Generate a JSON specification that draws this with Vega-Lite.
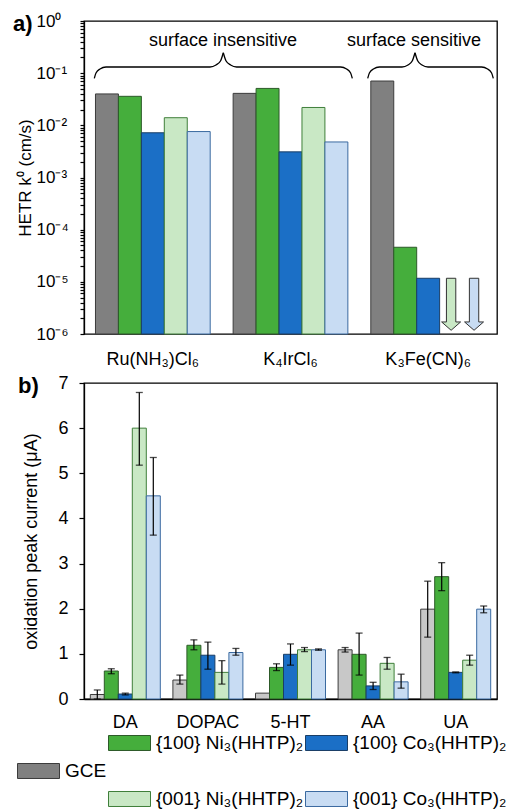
{
  "$schema": "https://vega.github.io/schema/vega-lite/v6.json",
  "background": "white",
  "padding": {"left": 12, "top": 11, "right": 5, "bottom": 5},
  "config": {
    "font": "Liberation Sans",
    "view": {"stroke": "#000", "strokeWidth": 1.3},
    "axis": {"domainColor": "#000", "domainWidth": 1.3, "tickColor": "#000", "tickWidth": 1.2, "labelColor": "#000", "titleColor": "#000", "labelFontSize": 18, "titleFontSize": 18, "titleFontWeight": "normal", "grid": false},
    "title": {"color": "#000"}
  },
  "datasets": {
    "kin": [
      {"compound": "Ru(NH₃)Cl₆", "series": "GCE", "k0": 0.040},
      {"compound": "Ru(NH₃)Cl₆", "series": "{100} Ni₃(HHTP)₂", "k0": 0.036},
      {"compound": "Ru(NH₃)Cl₆", "series": "{100} Co₃(HHTP)₂", "k0": 0.0072},
      {"compound": "Ru(NH₃)Cl₆", "series": "{001} Ni₃(HHTP)₂", "k0": 0.014},
      {"compound": "Ru(NH₃)Cl₆", "series": "{001} Co₃(HHTP)₂", "k0": 0.0076},
      {"compound": "K₄IrCl₆", "series": "GCE", "k0": 0.041},
      {"compound": "K₄IrCl₆", "series": "{100} Ni₃(HHTP)₂", "k0": 0.051},
      {"compound": "K₄IrCl₆", "series": "{100} Co₃(HHTP)₂", "k0": 0.0031},
      {"compound": "K₄IrCl₆", "series": "{001} Ni₃(HHTP)₂", "k0": 0.022},
      {"compound": "K₄IrCl₆", "series": "{001} Co₃(HHTP)₂", "k0": 0.0048},
      {"compound": "K₃Fe(CN)₆", "series": "GCE", "k0": 0.0707},
      {"compound": "K₃Fe(CN)₆", "series": "{100} Ni₃(HHTP)₂", "k0": 0.000046},
      {"compound": "K₃Fe(CN)₆", "series": "{100} Co₃(HHTP)₂", "k0": 0.0000117},
      {"compound": "K₃Fe(CN)₆", "series": "{001} Ni₃(HHTP)₂", "k0": null, "limit": 0.0000117},
      {"compound": "K₃Fe(CN)₆", "series": "{001} Co₃(HHTP)₂", "k0": null, "limit": 0.0000117}
    ],
    "osc": [
      {"analyte": "DA", "series": "GCE", "v": 0.10, "lo": 0.0, "hi": 0.20},
      {"analyte": "DA", "series": "{100} Ni₃(HHTP)₂", "v": 0.62, "lo": 0.56, "hi": 0.67},
      {"analyte": "DA", "series": "{100} Co₃(HHTP)₂", "v": 0.11, "lo": 0.09, "hi": 0.13},
      {"analyte": "DA", "series": "{001} Ni₃(HHTP)₂", "v": 6.0, "lo": 5.18, "hi": 6.79},
      {"analyte": "DA", "series": "{001} Co₃(HHTP)₂", "v": 4.5, "lo": 3.63, "hi": 5.35},
      {"analyte": "DOPAC", "series": "GCE", "v": 0.42, "lo": 0.33, "hi": 0.53},
      {"analyte": "DOPAC", "series": "{100} Ni₃(HHTP)₂", "v": 1.19, "lo": 1.09, "hi": 1.31},
      {"analyte": "DOPAC", "series": "{100} Co₃(HHTP)₂", "v": 0.97, "lo": 0.66, "hi": 1.26},
      {"analyte": "DOPAC", "series": "{001} Ni₃(HHTP)₂", "v": 0.59, "lo": 0.33, "hi": 0.85},
      {"analyte": "DOPAC", "series": "{001} Co₃(HHTP)₂", "v": 1.03, "lo": 0.97, "hi": 1.12},
      {"analyte": "5-HT", "series": "GCE", "v": 0.13, "lo": null, "hi": null},
      {"analyte": "5-HT", "series": "{100} Ni₃(HHTP)₂", "v": 0.70, "lo": 0.63, "hi": 0.78},
      {"analyte": "5-HT", "series": "{100} Co₃(HHTP)₂", "v": 0.99, "lo": 0.75, "hi": 1.22},
      {"analyte": "5-HT", "series": "{001} Ni₃(HHTP)₂", "v": 1.09, "lo": 1.05, "hi": 1.14},
      {"analyte": "5-HT", "series": "{001} Co₃(HHTP)₂", "v": 1.09, "lo": 1.08, "hi": 1.11},
      {"analyte": "AA", "series": "GCE", "v": 1.09, "lo": 1.04, "hi": 1.14},
      {"analyte": "AA", "series": "{100} Ni₃(HHTP)₂", "v": 0.99, "lo": 0.53, "hi": 1.46},
      {"analyte": "AA", "series": "{100} Co₃(HHTP)₂", "v": 0.29, "lo": 0.21, "hi": 0.37},
      {"analyte": "AA", "series": "{001} Ni₃(HHTP)₂", "v": 0.79, "lo": 0.66, "hi": 0.92},
      {"analyte": "AA", "series": "{001} Co₃(HHTP)₂", "v": 0.38, "lo": 0.24, "hi": 0.55},
      {"analyte": "UA", "series": "GCE", "v": 1.99, "lo": 1.37, "hi": 2.61},
      {"analyte": "UA", "series": "{100} Ni₃(HHTP)₂", "v": 2.71, "lo": 2.40, "hi": 3.02},
      {"analyte": "UA", "series": "{100} Co₃(HHTP)₂", "v": 0.59, "lo": 0.58, "hi": 0.60},
      {"analyte": "UA", "series": "{001} Ni₃(HHTP)₂", "v": 0.86, "lo": 0.75, "hi": 0.97},
      {"analyte": "UA", "series": "{001} Co₃(HHTP)₂", "v": 1.99, "lo": 1.91, "hi": 2.06}
    ],
    "braces": [
      {"seg": "b1L", "u": 0.449, "k": 0.0797}, {"seg": "b1L", "u": 0.523, "k": 0.1007}, {"seg": "b1L", "u": 0.697, "k": 0.1202}, {"seg": "b1L", "u": 0.959, "k": 0.1313}, {"seg": "b1L", "u": 5.492, "k": 0.1313}, {"seg": "b1L", "u": 5.753, "k": 0.1435}, {"seg": "b1L", "u": 5.949, "k": 0.1711}, {"seg": "b1L", "u": 6.071, "k": 0.2467},
      {"seg": "b1R", "u": 6.071, "k": 0.2467}, {"seg": "b1R", "u": 6.193, "k": 0.1711}, {"seg": "b1R", "u": 6.389, "k": 0.1435}, {"seg": "b1R", "u": 6.651, "k": 0.1313}, {"seg": "b1R", "u": 11.184, "k": 0.1313}, {"seg": "b1R", "u": 11.445, "k": 0.1202}, {"seg": "b1R", "u": 11.620, "k": 0.1007}, {"seg": "b1R", "u": 11.694, "k": 0.0797},
      {"seg": "b2L", "u": 12.365, "k": 0.0797}, {"seg": "b2L", "u": 12.439, "k": 0.1007}, {"seg": "b2L", "u": 12.613, "k": 0.1202}, {"seg": "b2L", "u": 12.875, "k": 0.1313}, {"seg": "b2L", "u": 13.860, "k": 0.1313}, {"seg": "b2L", "u": 14.121, "k": 0.1435}, {"seg": "b2L", "u": 14.304, "k": 0.1711}, {"seg": "b2L", "u": 14.426, "k": 0.2467},
      {"seg": "b2R", "u": 14.426, "k": 0.2467}, {"seg": "b2R", "u": 14.548, "k": 0.1711}, {"seg": "b2R", "u": 14.731, "k": 0.1435}, {"seg": "b2R", "u": 14.993, "k": 0.1313}, {"seg": "b2R", "u": 17.329, "k": 0.1313}, {"seg": "b2R", "u": 17.590, "k": 0.1202}, {"seg": "b2R", "u": 17.765, "k": 0.1007}, {"seg": "b2R", "u": 17.839, "k": 0.0797}
    ],
    "notes": [
      {"label": "surface insensitive", "u": 6.058, "k": 0.332},
      {"label": "surface sensitive", "u": 14.383, "k": 0.332}
    ]
  },
  "spacing": 4,
  "resolve": {"scale": {"fill": "shared", "stroke": "shared", "xOffset": "independent"}, "legend": {"fill": "shared", "stroke": "shared"}},
  "vconcat": [
    {
      "width": 413,
      "height": 313,
      "title": {"text": "a)", "anchor": "start", "frame": "bounds", "orient": "top", "fontSize": 22, "fontWeight": "bold", "offset": 0, "dy": 24, "dx": -3},
      "resolve": {"scale": {"x": "independent"}, "axis": {"x": "independent"}},
      "layer": [
        {
          "data": {"name": "kin"},
          "mark": {"type": "bar", "strokeWidth": 1},
          "encoding": {
            "x": {"field": "compound", "type": "nominal", "sort": ["Ru(NH₃)Cl₆", "K₄IrCl₆", "K₃Fe(CN)₆"], "scale": {"domain": ["Ru(NH₃)Cl₆", "K₄IrCl₆", "K₃Fe(CN)₆"], "paddingInner": 0, "paddingOuter": 0}, "axis": {"title": null, "labelAngle": 0, "ticks": false, "domain": false, "labelPadding": 16, "labelFontSize": 18}},
            "xOffset": {"field": "series", "type": "nominal", "scale": {"domain": ["GCE", "{100} Ni₃(HHTP)₂", "{100} Co₃(HHTP)₂", "{001} Ni₃(HHTP)₂", "{001} Co₃(HHTP)₂"], "paddingInner": 0, "paddingOuter": 0.5}},
            "y": {"field": "k0", "type": "quantitative", "scale": {"type": "log", "domain": [0.000001, 1], "nice": false},
              "axis": {"orient": "left", "title": "HETR k⁰ (cm/s)", "titleFontSize": 17, "titlePadding": 2, "values": [0.000001,0.000002,0.000003,0.000004,0.000005,0.000006,0.000007,0.000008,0.000009,0.00001,0.00002,0.00003,0.00004,0.00005,0.00006,0.00007,0.00008,0.00009,0.0001,0.0002,0.0003,0.0004,0.0005,0.0006,0.0007,0.0008,0.0009,0.001,0.002,0.003,0.004,0.005,0.006,0.007,0.008,0.009,0.01,0.02,0.03,0.04,0.05,0.06,0.07,0.08,0.09,0.1,0.2,0.3,0.4,0.5,0.6,0.7,0.8,0.9,1], "labelExpr": "abs(log(datum.value)/LN10 - round(log(datum.value)/LN10)) > 0.001 ? '' : datum.value > 0.5 ? '10⁰' : datum.value > 0.05 ? '10⁻¹' : datum.value > 0.005 ? '10⁻²' : datum.value > 0.0005 ? '10⁻³' : datum.value > 0.00005 ? '10⁻⁴' : datum.value > 0.000005 ? '10⁻⁵' : '10⁻⁶'", "tickSize": 4, "labelAlign": "left", "labelPadding": 44, "labelFontSize": 17, "labelOverlap": false}},
            "y2": {"datum": 0.000001},
            "fill": {"field": "series", "type": "nominal",
              "scale": {"domain": ["blank1", "{100} Ni₃(HHTP)₂", "{100} Co₃(HHTP)₂", "GCE", "blank2", "blank3", "blank4", "{001} Ni₃(HHTP)₂", "{001} Co₃(HHTP)₂"], "range": ["transparent", "#45ae3c", "#1b6fc6", "#808080", "transparent", "transparent", "transparent", "#c9e8c5", "#c8dcf3"]},
              "legend": {"title": null, "orient": "none", "legendX": -67, "legendY": 714, "columns": 3, "direction": "horizontal", "symbolType": "M-1,-0.357L1,-0.357L1,0.357L-1,0.357Z", "symbolSize": 1764, "symbolStrokeWidth": 1, "labelFontSize": 19, "labelExpr": "indexof(datum.label, 'blank') === 0 ? '' : datum.label", "labelLimit": 400, "rowPadding": 9, "columnPadding": 1, "clipHeight": 16, "labelOffset": 5}},
            "stroke": {"field": "series", "type": "nominal",
              "scale": {"domain": ["blank1", "{100} Ni₃(HHTP)₂", "{100} Co₃(HHTP)₂", "GCE", "blank2", "blank3", "blank4", "{001} Ni₃(HHTP)₂", "{001} Co₃(HHTP)₂"], "range": ["transparent", "#2d5a29", "#1a3e66", "#3c3c3c", "transparent", "transparent", "transparent", "#3f7f3a", "#3b6aa0"]},
              "legend": {"title": null, "orient": "none", "legendX": -67, "legendY": 714, "columns": 3, "direction": "horizontal", "symbolType": "M-1,-0.357L1,-0.357L1,0.357L-1,0.357Z", "symbolSize": 1764, "symbolStrokeWidth": 1, "labelFontSize": 19, "labelExpr": "indexof(datum.label, 'blank') === 0 ? '' : datum.label", "labelLimit": 400, "rowPadding": 9, "columnPadding": 1, "clipHeight": 16, "labelOffset": 5}}
          }
        },
        {
          "data": {"name": "kin"},
          "transform": [{"filter": "isValid(datum.limit)"}],
          "mark": {"type": "point", "shape": "M-0.18,0L0.18,0L0.18,1.68L0.365,1.68L0,2L-0.365,1.68L-0.18,1.68Z", "size": 2704, "filled": true, "opacity": 1, "stroke": "#333", "strokeWidth": 1},
          "encoding": {
            "x": {"field": "compound", "type": "nominal", "scale": {"domain": ["Ru(NH₃)Cl₆", "K₄IrCl₆", "K₃Fe(CN)₆"], "paddingInner": 0, "paddingOuter": 0}, "axis": null},
            "xOffset": {"field": "series", "type": "nominal", "scale": {"domain": ["GCE", "{100} Ni₃(HHTP)₂", "{100} Co₃(HHTP)₂", "{001} Ni₃(HHTP)₂", "{001} Co₃(HHTP)₂"], "paddingInner": 0, "paddingOuter": 0.5}},
            "y": {"field": "limit", "type": "quantitative", "scale": {"type": "log", "domain": [0.000001, 1], "nice": false},
              "axis": {"orient": "left", "title": "HETR k⁰ (cm/s)", "titleFontSize": 17, "titlePadding": 2, "values": [0.000001,0.000002,0.000003,0.000004,0.000005,0.000006,0.000007,0.000008,0.000009,0.00001,0.00002,0.00003,0.00004,0.00005,0.00006,0.00007,0.00008,0.00009,0.0001,0.0002,0.0003,0.0004,0.0005,0.0006,0.0007,0.0008,0.0009,0.001,0.002,0.003,0.004,0.005,0.006,0.007,0.008,0.009,0.01,0.02,0.03,0.04,0.05,0.06,0.07,0.08,0.09,0.1,0.2,0.3,0.4,0.5,0.6,0.7,0.8,0.9,1], "labelExpr": "abs(log(datum.value)/LN10 - round(log(datum.value)/LN10)) > 0.001 ? '' : datum.value > 0.5 ? '10⁰' : datum.value > 0.05 ? '10⁻¹' : datum.value > 0.005 ? '10⁻²' : datum.value > 0.0005 ? '10⁻³' : datum.value > 0.00005 ? '10⁻⁴' : datum.value > 0.000005 ? '10⁻⁵' : '10⁻⁶'", "tickSize": 4, "labelAlign": "left", "labelPadding": 44, "labelFontSize": 17, "labelOverlap": false}},
            "fill": {"field": "series", "type": "nominal", "legend": null}
          }
        },
        {
          "data": {"name": "braces"},
          "mark": {"type": "line", "interpolate": "monotone", "stroke": "#000", "strokeWidth": 1.3},
          "encoding": {
            "x": {"field": "u", "type": "quantitative", "scale": {"domain": [0, 18], "nice": false, "zero": false}, "axis": null},
            "y": {"field": "k", "type": "quantitative", "scale": {"type": "log", "domain": [0.000001, 1], "nice": false},
              "axis": {"orient": "left", "title": "HETR k⁰ (cm/s)", "titleFontSize": 17, "titlePadding": 2, "values": [0.000001,0.000002,0.000003,0.000004,0.000005,0.000006,0.000007,0.000008,0.000009,0.00001,0.00002,0.00003,0.00004,0.00005,0.00006,0.00007,0.00008,0.00009,0.0001,0.0002,0.0003,0.0004,0.0005,0.0006,0.0007,0.0008,0.0009,0.001,0.002,0.003,0.004,0.005,0.006,0.007,0.008,0.009,0.01,0.02,0.03,0.04,0.05,0.06,0.07,0.08,0.09,0.1,0.2,0.3,0.4,0.5,0.6,0.7,0.8,0.9,1], "labelExpr": "abs(log(datum.value)/LN10 - round(log(datum.value)/LN10)) > 0.001 ? '' : datum.value > 0.5 ? '10⁰' : datum.value > 0.05 ? '10⁻¹' : datum.value > 0.005 ? '10⁻²' : datum.value > 0.0005 ? '10⁻³' : datum.value > 0.00005 ? '10⁻⁴' : datum.value > 0.000005 ? '10⁻⁵' : '10⁻⁶'", "tickSize": 4, "labelAlign": "left", "labelPadding": 44, "labelFontSize": 17, "labelOverlap": false}},
            "detail": {"field": "seg", "type": "nominal"}
          }
        },
        {
          "data": {"name": "notes"},
          "mark": {"type": "text", "fontSize": 18, "align": "center", "baseline": "alphabetic", "color": "#000"},
          "encoding": {
            "x": {"field": "u", "type": "quantitative", "scale": {"domain": [0, 18], "nice": false, "zero": false}, "axis": null},
            "y": {"field": "k", "type": "quantitative", "scale": {"type": "log", "domain": [0.000001, 1], "nice": false},
              "axis": {"orient": "left", "title": "HETR k⁰ (cm/s)", "titleFontSize": 17, "titlePadding": 2, "values": [0.000001,0.000002,0.000003,0.000004,0.000005,0.000006,0.000007,0.000008,0.000009,0.00001,0.00002,0.00003,0.00004,0.00005,0.00006,0.00007,0.00008,0.00009,0.0001,0.0002,0.0003,0.0004,0.0005,0.0006,0.0007,0.0008,0.0009,0.001,0.002,0.003,0.004,0.005,0.006,0.007,0.008,0.009,0.01,0.02,0.03,0.04,0.05,0.06,0.07,0.08,0.09,0.1,0.2,0.3,0.4,0.5,0.6,0.7,0.8,0.9,1], "labelExpr": "abs(log(datum.value)/LN10 - round(log(datum.value)/LN10)) > 0.001 ? '' : datum.value > 0.5 ? '10⁰' : datum.value > 0.05 ? '10⁻¹' : datum.value > 0.005 ? '10⁻²' : datum.value > 0.0005 ? '10⁻³' : datum.value > 0.00005 ? '10⁻⁴' : datum.value > 0.000005 ? '10⁻⁵' : '10⁻⁶'", "tickSize": 4, "labelAlign": "left", "labelPadding": 44, "labelFontSize": 17, "labelOverlap": false}},
            "text": {"field": "label"}
          }
        }
      ]
    },
    {
      "width": 413,
      "height": 316,
      "title": {"text": "b)", "anchor": "start", "frame": "bounds", "orient": "top", "fontSize": 22, "fontWeight": "bold", "offset": 0, "dy": 24, "dx": -5},
      "data": {"name": "osc"},
      "encoding": {
        "x": {"field": "analyte", "type": "nominal", "sort": ["DA", "DOPAC", "5-HT", "AA", "UA"], "scale": {"paddingInner": 0, "paddingOuter": 0}, "axis": {"title": null, "labelAngle": 0, "ticks": false, "labelPadding": 14, "labelFontSize": 18}},
        "xOffset": {"field": "series", "type": "nominal", "scale": {"domain": ["GCE", "{100} Ni₃(HHTP)₂", "{100} Co₃(HHTP)₂", "{001} Ni₃(HHTP)₂", "{001} Co₃(HHTP)₂"], "paddingInner": 0, "paddingOuter": 0.45}}
      },
      "layer": [
        {
          "mark": {"type": "bar", "strokeWidth": 1},
          "encoding": {
            "y": {"field": "v", "type": "quantitative", "scale": {"domain": [0, 7], "nice": false}, "axis": {"orient": "left", "title": "oxidation peak current (μA)", "values": [0, 1, 2, 3, 4, 5, 6, 7], "tickSize": 5, "labelPadding": 11, "titlePadding": 17, "labelFontSize": 18}},
            "fill": {"field": "series", "type": "nominal",
              "condition": {"test": "datum.series === 'GCE'", "value": "#c8c8c8"},
              "scale": {"domain": ["blank1", "{100} Ni₃(HHTP)₂", "{100} Co₃(HHTP)₂", "GCE", "blank2", "blank3", "blank4", "{001} Ni₃(HHTP)₂", "{001} Co₃(HHTP)₂"], "range": ["transparent", "#45ae3c", "#1b6fc6", "#808080", "transparent", "transparent", "transparent", "#c9e8c5", "#c8dcf3"]},
              "legend": {"title": null, "orient": "none", "legendX": -67, "legendY": 714, "columns": 3, "direction": "horizontal", "symbolType": "M-1,-0.357L1,-0.357L1,0.357L-1,0.357Z", "symbolSize": 1764, "symbolStrokeWidth": 1, "labelFontSize": 19, "labelExpr": "indexof(datum.label, 'blank') === 0 ? '' : datum.label", "labelLimit": 400, "rowPadding": 9, "columnPadding": 1, "clipHeight": 16, "labelOffset": 5}},
            "stroke": {"field": "series", "type": "nominal",
              "scale": {"domain": ["blank1", "{100} Ni₃(HHTP)₂", "{100} Co₃(HHTP)₂", "GCE", "blank2", "blank3", "blank4", "{001} Ni₃(HHTP)₂", "{001} Co₃(HHTP)₂"], "range": ["transparent", "#2d5a29", "#1a3e66", "#3c3c3c", "transparent", "transparent", "transparent", "#3f7f3a", "#3b6aa0"]},
              "legend": {"title": null, "orient": "none", "legendX": -67, "legendY": 714, "columns": 3, "direction": "horizontal", "symbolType": "M-1,-0.357L1,-0.357L1,0.357L-1,0.357Z", "symbolSize": 1764, "symbolStrokeWidth": 1, "labelFontSize": 19, "labelExpr": "indexof(datum.label, 'blank') === 0 ? '' : datum.label", "labelLimit": 400, "rowPadding": 9, "columnPadding": 1, "clipHeight": 16, "labelOffset": 5}}
          }
        },
        {
          "mark": {"type": "rule", "color": "#000", "strokeWidth": 1.2},
          "encoding": {
            "y": {"field": "lo", "type": "quantitative"},
            "y2": {"field": "hi"}
          }
        },
        {
          "mark": {"type": "tick", "color": "#000", "size": 7, "thickness": 1.3},
          "encoding": {"y": {"field": "lo", "type": "quantitative"}}
        },
        {
          "mark": {"type": "tick", "color": "#000", "size": 7, "thickness": 1.3},
          "encoding": {"y": {"field": "hi", "type": "quantitative"}}
        }
      ]
    }
  ]
}
